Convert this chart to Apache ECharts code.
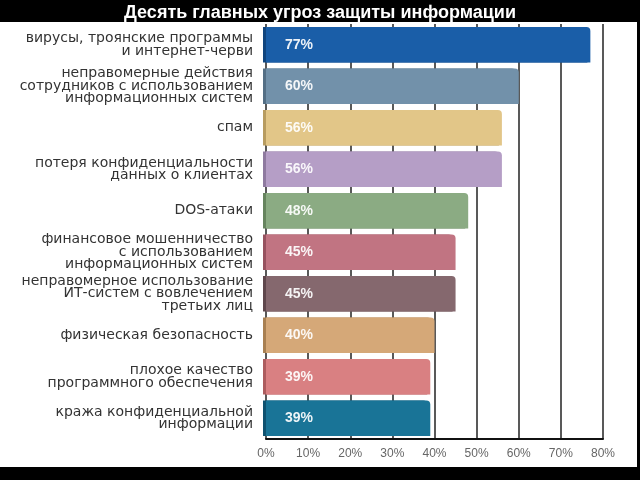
<!DOCTYPE html>
<html><head><meta charset="utf-8">
<script src="https://cdn.jsdelivr.net/npm/echarts@6/dist/echarts.min.js"></script>
<style>html,body{margin:0;padding:0;background:#000}#c{width:640px;height:480px}</style>
</head><body><div id="c"></div>
<script>
const title = 'Десять главных угроз защиты информации';
const categories = [
  'вирусы, троянские программы\nи интернет-черви',
  'неправомерные действия\nсотрудников с использованием\nинформационных систем',
  'спам',
  'потеря конфиденциальности\nданных о клиентах',
  'DOS-атаки',
  'финансовое мошенничество\nс использованием\nинформационных систем',
  'неправомерное использование\nИТ-систем с вовлечением\nтретьих лиц',
  'физическая безопасность',
  'плохое качество\nпрограммного обеспечения',
  'кража конфиденциальной\nинформации'
];
const values = [77, 60, 56, 56, 48, 45, 45, 40, 39, 39];
const colors = ['#1a5ea8', '#7291aa', '#e2c688', '#b59ec6', '#8bab83', '#c17482', '#85686e', '#d5a878', '#d98082', '#197497'];
const sideColors = ['#10457e', '#546f85', '#b89c60', '#8f7aa0', '#66845e', '#97525f', '#5f474c', '#a98052', '#ad5c5e', '#0e5270'];
const xTicks = [0, 10, 20, 30, 40, 50, 60, 70, 80];

const chart = echarts.init(document.getElementById('c'));
chart.setOption({
  backgroundColor: '#000',
  animation: false,
  title: {
    text: title, left: 'center', top: -1,
    textStyle: {color: '#fff', fontSize: 18, fontWeight: 'bold', fontFamily: 'Liberation Sans, Arial'}
  },
  graphic: [{type: 'rect', z: -10, shape: {x: 0, y: 22, width: 637, height: 445}, style: {fill: '#fff'}}],
  grid: {left: 266, right: 37, top: 24, bottom: 41},
  xAxis: {
    type: 'value', min: xTicks[0], max: xTicks[xTicks.length - 1], interval: 10,
    axisLine: {show: true, lineStyle: {color: '#111', width: 2}},
    axisTick: {show: false},
    splitLine: {show: true, lineStyle: {color: '#222', width: 1.5}},
    axisLabel: {formatter: '{value}%', color: '#666', fontSize: 12, margin: 9, fontFamily: 'Liberation Sans, Arial'}
  },
  yAxis: {
    type: 'category', data: categories, inverse: true,
    axisLine: {show: false}, axisTick: {show: false},
    axisLabel: {color: '#333', fontSize: 14, lineHeight: 12.5, margin: 13, align: 'right', fontFamily: 'DejaVu Sans'}
  },
  series: [{
    type: 'bar', barCategoryGap: '15%',
    data: values.map((v, i) => ({
      value: v,
      itemStyle: {
        color: colors[i],
        borderRadius: [0, 4, 0, 0],
        shadowColor: sideColors[i], shadowOffsetX: -3, shadowOffsetY: 0, shadowBlur: 0
      }
    })),
    label: {
      show: true, position: 'insideLeft', distance: 19,
      formatter: '{c}%', color: 'rgba(255,255,255,0.92)', fontSize: 14, fontWeight: 'bold',
      fontFamily: 'Liberation Sans, Arial'
    }
  }]
});
</script></body></html>
